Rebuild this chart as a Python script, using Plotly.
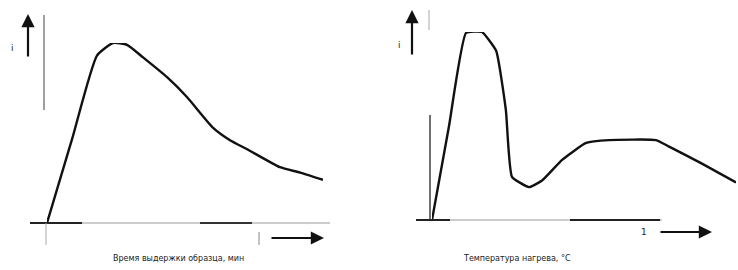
import plotly.graph_objects as go

# Left panel curve (relative units)
left_t = [0, 0.91, 1.81, 2.39, 2.90, 3.48, 4.35, 5.07, 6.01, 6.63, 7.25, 8.44, 9.17, 10]
left_i = [0, 0.467, 0.93, 1.0, 0.99, 0.92, 0.81, 0.70, 0.53, 0.46, 0.41, 0.31, 0.28, 0.24]

# Right panel curve (relative units)
right_t = [0, 0.56, 1.12, 1.64, 2.11, 2.43, 2.63, 3.19, 3.62, 4.28, 5.07, 5.82, 7.37, 7.80, 8.88, 10]
right_i = [0, 0.50, 0.995, 1.0, 0.90, 0.585, 0.23, 0.175, 0.21, 0.32, 0.41, 0.425, 0.425, 0.39, 0.30, 0.20]

left_label = "Время выдержки образца, мин"
right_label = "Температура нагрева, °С"

W, H = 738, 270
def px(x): return x / W
def py(y): return 1 - y / H

fig = go.Figure()
fig.add_trace(go.Scatter(x=left_t, y=left_i, mode="lines", xaxis="x", yaxis="y",
                         line=dict(color="#111", width=2.4, shape="spline", smoothing=0.5),
                         showlegend=False, hoverinfo="skip"))
fig.add_trace(go.Scatter(x=right_t, y=right_i, mode="lines", xaxis="x2", yaxis="y2",
                         line=dict(color="#111", width=2.4, shape="spline", smoothing=0.4),
                         showlegend=False, hoverinfo="skip"))

ax = dict(visible=False, range=[0, 10], fixedrange=True)
ay = dict(visible=False, range=[0, 1], fixedrange=True)
fig.update_layout(
    width=W, height=H, margin=dict(l=0, r=0, t=0, b=0),
    paper_bgcolor="white", plot_bgcolor="white",
    xaxis=dict(ax, domain=[px(47), px(323)]),
    yaxis=dict(ay, domain=[py(223), py(43)]),
    xaxis2=dict(ax, domain=[px(432), px(736)], anchor="y2"),
    yaxis2=dict(ay, domain=[py(220), py(32)], anchor="x2"),
)

shapes = []
def seg(x0, y0, x1, y1, color="#222", width=1.5):
    shapes.append(dict(type="line", xref="paper", yref="paper",
                       x0=px(x0), y0=py(y0), x1=px(x1), y1=py(y1),
                       line=dict(color=color, width=width)))

# Left axes
seg(30, 223, 330, 223, "#bbb", 1.5)
seg(30, 223, 82, 223, "#222", 1.8)
seg(200, 223, 252, 223, "#333", 1.8)
seg(44, 15, 44, 110, "#666", 1.2)
seg(44, 100, 44, 110, "#999", 1.0)
seg(46, 223, 46, 245, "#aaa", 1.0)
seg(259, 232, 259, 245, "#888", 1.0)
# Right axes
seg(416, 220, 662, 220, "#bbb", 1.5)
seg(416, 220, 450, 220, "#222", 1.8)
seg(570, 220, 660, 220, "#222", 1.8)
seg(430, 115, 430, 220, "#333", 1.4)
seg(429, 10, 429, 30, "#aaa", 1.0)
fig.update_layout(shapes=shapes)

anns = []
def arrow(x0, y0, x1, y1):
    anns.append(dict(xref="paper", yref="paper", axref="pixel", ayref="pixel",
                     x=px(x1), y=py(y1), ax=(x0 - x1), ay=(y0 - y1), text="",
                     showarrow=True, arrowhead=2, arrowsize=1.2, arrowwidth=2.2,
                     arrowcolor="#111"))
arrow(28, 58, 28, 14)
arrow(270, 238, 324, 238)
arrow(412, 56, 412, 10)
arrow(659, 232, 712, 232)

def txt(x, y, s, size=9, color="#222"):
    anns.append(dict(xref="paper", yref="paper", x=px(x), y=py(y), text=s,
                     showarrow=False, font=dict(size=size, color=color, family="DejaVu Sans"),
                     xanchor="center", yanchor="middle"))
txt(13, 48, "i", 9, "#222")
txt(399, 45, "i", 9, "#222")
txt(644, 232, "1", 9, "#222")
txt(178, 258, left_label, 8, "#222")
txt(517, 258, right_label, 8, "#222")
fig.update_layout(annotations=anns)

fig.write_html("out.html", config={"displayModeBar": False, "staticPlot": True},
               post_script="document.body.style.margin='0';document.body.style.overflow='hidden';")
